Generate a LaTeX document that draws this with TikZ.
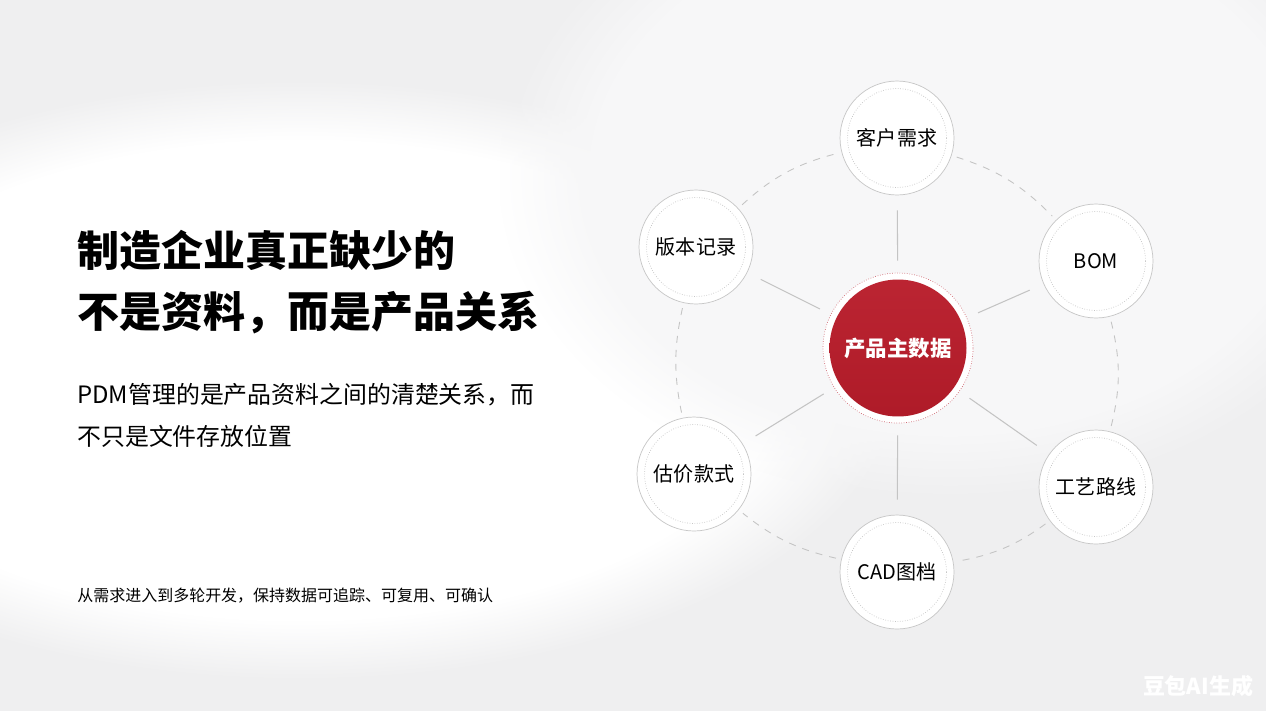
\documentclass[tikz,border=0pt]{standalone}
\usepackage{fontspec}
\setmainfont{Noto Sans CJK SC}
\usetikzlibrary{positioning, calc, fadings}
\definecolor{hubred}{HTML}{B91C2A}
\definecolor{bggray}{HTML}{EFEFF0}
\definecolor{linegray}{HTML}{C4C4C4}
\tikzset{
	satellite/.style={
		draw=gray!45,
		circle,
		fill=white,
		inner sep=0pt,
		minimum size=2.28cm,
		font=\fontsize{11.4}{13}\selectfont,
		path picture={\draw[gray!45, densely dotted] (path picture bounding box.center) circle (0.99cm);}
	},
	hub/.style={
		circle,
		draw=hubred!65, densely dotted,
		fill=white,
		inner sep=0pt,
		minimum size=3cm,
		text=white,
		font=\bfseries\fontsize{12.2}{14}\selectfont,
		path picture={\shade[top color=hubred!96!white, bottom color=hubred!94!black] (path picture bounding box.center) circle (1.37cm);}
	},
	spoke/.style={
		linegray,
		line width=0.6pt,
		shorten <=0.24cm,
		shorten >=0.3cm
	},
	ring/.style={
		linegray,
		dash pattern=on 4pt off 4pt,
		line width=0.5pt,
		shorten <=3pt,
		shorten >=3pt
	}
}

\begin{document}
\begin{tikzpicture}[x=0.02cm, y=-0.02cm]
	\useasboundingbox (0,0) rectangle (1266,711);
	% background
	\fill[bggray] (0,0) rectangle (1266,711);
	\fill[white, path fading=circle with fuzzy edge 20 percent] (-300,80) rectangle (900,680);
	\fill[white!50!bggray, path fading=circle with fuzzy edge 20 percent] (500,-150) rectangle (1400,500);

	% left text
	\node[anchor=west, align=left, inner sep=0pt, font=\bfseries\fontsize{23.9}{34.6}\selectfont] (title) at (77,282) {制造企业真正缺少的\\不是资料，而是产品关系};
	\node[anchor=west, align=left, inner sep=0pt, font=\fontsize{13.6}{23.8}\selectfont] (lead) at (77,415) {PDM管理的是产品资料之间的清楚关系，而\\不只是文件存放位置};
	\node[anchor=west, inner sep=0pt, font=\fontsize{9.1}{11}\selectfont] (note) at (77,596) {从需求进入到多轮开发，保持数据可追踪、可复用、可确认};

	% hub and satellites
	\node[hub] (master) at (898,348) {产品主数据};
	\node[satellite] (demand) at (897,138) {客户需求};
	\node[satellite] (bom) at (1096,261) {BOM};
	\node[satellite] (route) at (1096,487) {工艺路线};
	\node[satellite] (cad) at (897,572) {CAD图档};
	\node[satellite] (quote) at (694,474) {估价款式};
	\node[satellite] (version) at (696,247) {版本记录};

	% spokes
	\foreach \sat in {demand, bom, route, cad, quote, version} {
		\draw[spoke] (master) -- (\sat);
	}

	% dashed ring
	\draw[ring] (demand) to[bend left=14] (bom);
	\draw[ring] (bom) to[bend left=14] (route);
	\draw[ring] (route) to[bend left=13] (cad);
	\draw[ring] (cad) to[bend left=13] (quote);
	\draw[ring] (quote) to[bend left=12] (version);
	\draw[ring] (version) to[bend left=14] (demand);

	\node[text=white, font=\bfseries\fontsize{12.5}{14}\selectfont] (mark) at (1198,686) {豆包AI生成};
\end{tikzpicture}
\end{document}
